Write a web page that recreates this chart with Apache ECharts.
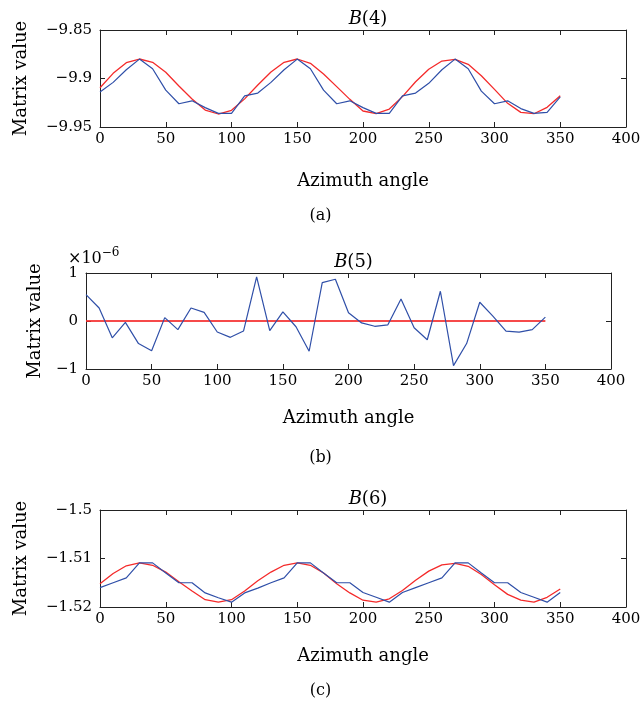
<!DOCTYPE html>
<html>
<head>
<meta charset="utf-8">
<script src="https://cdn.jsdelivr.net/npm/echarts@6/dist/echarts.min.js"></script>
<style>html,body{margin:0;padding:0;background:#fff;}#c{width:641px;height:708px;}</style>
</head>
<body>
<div id="c"></div>
<script>
const angles = [0,10,20,30,40,50,60,70,80,90,100,110,120,130,140,150,160,170,180,190,200,210,220,230,240,250,260,270,280,290,300,310,320,330,340,350];

const b4Blue = [-9.914,-9.904,-9.891,-9.880,-9.890,-9.912,-9.926,-9.923,-9.930,-9.936,-9.936,-9.918,-9.915,-9.904,-9.891,-9.880,-9.890,-9.912,-9.926,-9.923,-9.930,-9.936,-9.936,-9.918,-9.915,-9.905,-9.891,-9.880,-9.890,-9.913,-9.926,-9.923,-9.931,-9.936,-9.935,-9.919];
const b4Red = [-9.9095,-9.8947,-9.8837,-9.8799,-9.8833,-9.8936,-9.9077,-9.9211,-9.9325,-9.9366,-9.9328,-9.921,-9.9067,-9.8933,-9.8833,-9.8799,-9.8844,-9.8954,-9.9084,-9.9215,-9.9335,-9.9363,-9.9315,-9.9187,-9.9033,-9.8905,-9.882,-9.8802,-9.8854,-9.8971,-9.9112,-9.9256,-9.9349,-9.9363,-9.9297,-9.9177];

// panel (b) values in units of 1e-6
const b5Blue = [0.55,0.27,-0.35,-0.03,-0.47,-0.62,0.07,-0.18,0.27,0.18,-0.23,-0.34,-0.21,0.92,-0.2,0.19,-0.12,-0.63,0.8,0.87,0.17,-0.04,-0.11,-0.08,0.46,-0.14,-0.39,0.62,-0.93,-0.47,0.39,0.1,-0.21,-0.23,-0.18,0.08];
const b5Red = [0,0,0,0,0,0,0,0,0,0,0,0,0,0,0,0,0,0,0,0,0,0,0,0,0,0,0,0,0,0,0,0,0,0,0,0];

const b6Blue = [-1.5160,-1.5150,-1.5140,-1.5109,-1.5109,-1.5130,-1.5150,-1.5150,-1.5171,-1.5181,-1.5190,-1.5171,-1.5161,-1.5150,-1.5140,-1.5109,-1.5109,-1.5130,-1.5150,-1.5150,-1.5170,-1.5180,-1.5190,-1.5170,-1.5160,-1.5150,-1.5140,-1.5109,-1.5109,-1.5130,-1.5150,-1.5150,-1.5170,-1.5180,-1.5190,-1.5170];
const b6Red = [-1.5152,-1.5131,-1.5115,-1.5109,-1.5114,-1.5128,-1.5148,-1.5167,-1.5185,-1.5190,-1.5185,-1.5167,-1.5146,-1.5128,-1.5114,-1.5109,-1.5114,-1.5130,-1.5152,-1.5171,-1.5186,-1.5190,-1.5183,-1.5166,-1.5145,-1.5126,-1.5113,-1.5110,-1.5116,-1.5133,-1.5154,-1.5174,-1.5186,-1.5190,-1.5180,-1.5163];

const titles = ['4','5','6'];
const panelLabels = ['(a)','(b)','(c)'];
const yRanges = [[-9.95,-9.85,0.05],[-1,1,1],[-1.52,-1.5,0.01]];
const xRange = [0,400,50];

const FONT = '"DejaVu Serif", "Liberation Serif", serif';
const BLUE = '#2f4fa8';
const RED = '#f42a2a';

const grids = [
  {left:100, top:30, width:526, height:97, outerBoundsMode:'none', containLabel:false},
  {left:86, top:273, width:525, height:96, outerBoundsMode:'none', containLabel:false},
  {left:100, top:510, width:526, height:97, outerBoundsMode:'none', containLabel:false}
];
const xNameGaps = [45, 40, 40];

function fmt(v){
  let s = String(Math.round(v*10000)/10000);
  return s.replace('-', '\u2212');
}

const xAxis = [], yAxis = [], series = [], title = [];
const lineStyleAxis = {color:'#222', width:1};
grids.forEach((g,i)=>{
  xAxis.push({
    gridIndex:i, type:'value', min:xRange[0], max:xRange[1], interval:xRange[2],
    position:'bottom',
    axisLine:{show:true, onZero:false, lineStyle:lineStyleAxis},
    axisTick:{show:true, inside:true, length:5, lineStyle:lineStyleAxis},
    axisLabel:{color:'#000', fontFamily:FONT, fontSize:15, margin:5},
    splitLine:{show:false},
    name:'Azimuth angle', nameLocation:'middle', nameGap:xNameGaps[i],
    nameTextStyle:{color:'#000', fontFamily:FONT, fontSize:18}
  });
  xAxis.push({
    gridIndex:i, type:'value', min:xRange[0], max:xRange[1], interval:xRange[2],
    position:'top',
    axisLine:{show:true, onZero:false, lineStyle:lineStyleAxis},
    axisTick:{show:true, inside:true, length:5, lineStyle:lineStyleAxis},
    axisLabel:{show:false}, splitLine:{show:false}
  });
  const yr = yRanges[i];
  yAxis.push({
    gridIndex:i, type:'value', min:yr[0], max:yr[1], interval:yr[2],
    position:'left',
    axisLine:{show:true, onZero:false, lineStyle:lineStyleAxis},
    axisTick:{show:true, inside:true, length:5, lineStyle:lineStyleAxis},
    axisLabel:{color:'#000', fontFamily:FONT, fontSize:15, margin:8, formatter:fmt},
    splitLine:{show:false},
    name:'Matrix value', nameLocation:'middle', nameGap: i===1 ? 42 : 70,
    nameTextStyle:{color:'#000', fontFamily:FONT, fontSize:18}
  });
  yAxis.push({
    gridIndex:i, type:'value', min:yr[0], max:yr[1], interval:yr[2],
    position:'right',
    axisLine:{show:true, onZero:false, lineStyle:lineStyleAxis},
    axisTick:{show:true, inside:true, length:5, lineStyle:lineStyleAxis},
    axisLabel:{show:false}, splitLine:{show:false}
  });
  title.push({
    text:'{i|B}{n|(' + titles[i] + ')}',
    left: g.left + g.width/2, top: g.top - 25, textAlign:'center',
    textStyle:{fontWeight:'normal', rich:{
      i:{fontFamily:FONT, fontSize:18, fontStyle:'italic', fontWeight:'normal', color:'#000'},
      n:{fontFamily:FONT, fontSize:18, fontWeight:'normal', color:'#000'}
    }}
  });
});

const data = [[b4Blue,b4Red],[b5Blue,b5Red],[b6Blue,b6Red]];
data.forEach((pair,i)=>{
  series.push({
    type:'line', xAxisIndex:2*i, yAxisIndex:2*i, symbol:'none', animation:false,
    data: angles.map((a,k)=>[a,pair[1][k]]),
    lineStyle:{color:RED, width: i===1 ? 2 : 1.3, opacity: i===1 ? 0.85 : 1}
  });
  series.push({
    type:'line', xAxisIndex:2*i, yAxisIndex:2*i, symbol:'none', animation:false,
    data: angles.map((a,k)=>[a,pair[0][k]]),
    lineStyle:{color:BLUE, width:1.2}
  });
});

const graphic = [
  {type:'text', left:'center', top:208, style:{text:panelLabels[0], font:'16px ' + FONT, fill:'#000'}},
  {type:'text', left:'center', top:450, style:{text:panelLabels[1], font:'16px ' + FONT, fill:'#000'}},
  {type:'text', left:'center', top:683, style:{text:panelLabels[2], font:'16px ' + FONT, fill:'#000'}},
  {type:'text', left:68, top:247, style:{
    text:'{a|\u00d710}{s|\u22126}',
    rich:{a:{fontFamily:FONT, fontSize:16, fill:'#000', verticalAlign:'bottom'},
          s:{fontFamily:FONT, fontSize:12, fill:'#000', verticalAlign:'top', padding:[0,0,8,0]}}
  }}
];

const chart = echarts.init(document.getElementById('c'), null, {renderer:'canvas'});
chart.setOption({
  animation:false,
  backgroundColor:'#fff',
  title, grid:grids, xAxis, yAxis, series, graphic
});
</script>
</body>
</html>
